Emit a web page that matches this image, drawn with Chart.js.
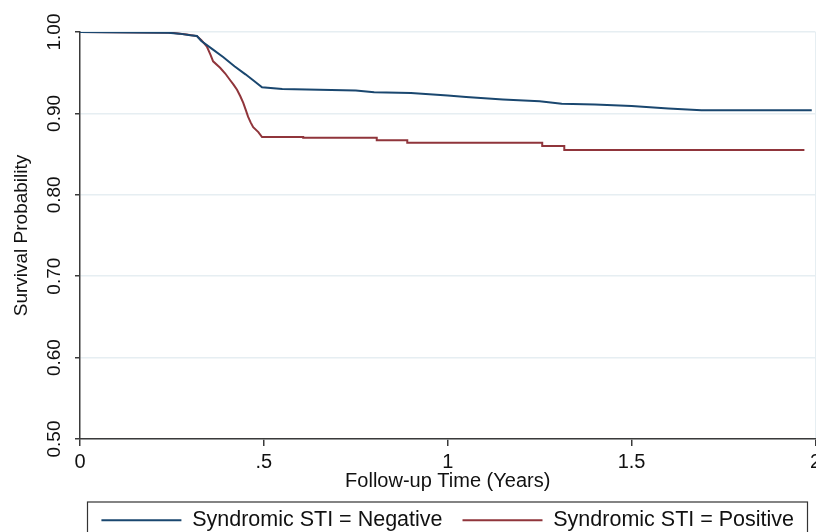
<!DOCTYPE html>
<html>
<head>
<meta charset="utf-8">
<script src="https://cdn.jsdelivr.net/npm/chart.js@4.4.1/dist/chart.umd.min.js"></script>
<style>
  html, body { margin: 0; padding: 0; background: #fff; overflow: hidden; }
  #wrap { position: relative; width: 825px; height: 541px; }
</style>
</head>
<body>
<div id="wrap"><canvas id="chart"></canvas></div>
<script>
// Kaplan-Meier estimates
const negTime = [0, 0.24, 0.27, 0.30, 0.318, 0.33, 0.36, 0.39, 0.42, 0.45, 0.47, 0.495, 0.55, 0.65, 0.75, 0.80, 0.90, 1.00, 1.05, 1.15, 1.25, 1.31, 1.40, 1.50, 1.60, 1.69, 1.99]
const negSurv = [1, 0.999, 0.998, 0.996, 0.995, 0.989, 0.979, 0.969, 0.958, 0.948, 0.941, 0.932, 0.930, 0.929, 0.928, 0.926, 0.925, 0.922, 0.920, 0.917, 0.915, 0.912, 0.911, 0.909, 0.906, 0.904, 0.904]

const posTime = [0, 0.25, 0.29, 0.318, 0.33, 0.345, 0.355, 0.362, 0.381, 0.395, 0.408, 0.418, 0.427, 0.436, 0.444, 0.451, 0.457, 0.464, 0.471, 0.485, 0.495, 0.607, 0.607, 0.807, 0.807, 0.89, 0.89, 1.257, 1.257, 1.317, 1.317, 1.97]
const posSurv = [1, 0.999, 0.997, 0.995, 0.990, 0.982, 0.972, 0.964, 0.956, 0.949, 0.941, 0.935, 0.929, 0.921, 0.913, 0.904, 0.896, 0.889, 0.883, 0.877, 0.871, 0.871, 0.870, 0.870, 0.867, 0.867, 0.864, 0.864, 0.860, 0.860, 0.855, 0.855]

const seriesNames = ['Syndromic STI = Negative', 'Syndromic STI = Positive']
const xTickValues = [0, 0.5, 1, 1.5, 2]
const xTickLabels = ['0', '.5', '1', '1.5', '2']
const yTickValues = [0.5, 0.6, 0.7, 0.8, 0.9, 1.0]
const yTickLabels = ['0.50', '0.60', '0.70', '0.80', '0.90', '1.00']

const blue = '#1a476f'
const red = '#90353b'
const gridCol = '#e6eef2'
const axisCol = '#3a3a3a'
const fontFam = 'Liberation Sans, Arial, sans-serif'

const toPoints = (xs, ys) => xs.map((x, i) => ({ x, y: ys[i] }))

// box round the legend, as in the Stata output
const legendBox = {
  id: 'legendBox',
  afterDraw(chart) {
    const lg = chart.legend
    const ctx = chart.ctx
    ctx.save()
    ctx.strokeStyle = '#333'
    ctx.lineWidth = 1.2
    ctx.strokeRect(87.5, lg.top + 12.5, 720, 60)
    ctx.restore()
  }
}

new Chart(document.getElementById('chart'), {
  type: 'line',
  data: {
    datasets: [
      { label: seriesNames[0], data: toPoints(negTime, negSurv), borderColor: blue, backgroundColor: blue, borderWidth: 2, pointRadius: 0, tension: 0 },
      { label: seriesNames[1], data: toPoints(posTime, posSurv), borderColor: red, backgroundColor: red, borderWidth: 2, pointRadius: 0, tension: 0 }
    ]
  },
  options: {
    responsive: true,
    maintainAspectRatio: false,
    animation: false,
    layout: { padding: { top: 32, left: 0, right: 0, bottom: 0 } },
    plugins: {
      tooltip: { enabled: false },
      legend: {
        position: 'bottom',
        fullSize: false,
        labels: {
          boxWidth: 80,
          boxHeight: 0,
          padding: 20,
          color: '#111',
          font: { family: fontFam, size: 21.5 }
        }
      }
    },
    scales: {
      x: {
        type: 'linear',
        min: 0,
        max: 2,
        afterBuildTicks: axis => { axis.ticks = xTickValues.map(v => ({ value: v })) },
        afterFit: axis => { axis.height = 50.5 },
        ticks: {
          callback: v => xTickLabels[xTickValues.indexOf(v)],
          color: '#111',
          padding: 4,
          maxRotation: 0,
          font: { family: fontFam, size: 20 }
        },
        grid: {
          color: c => (c.tick && c.tick.value === 2 ? gridCol : 'rgba(0,0,0,0)'),
          tickColor: axisCol,
          tickLength: 7,
          lineWidth: 1.5
        },
        border: { color: axisCol, width: 1.5 },
        title: {
          display: true,
          text: 'Follow-up Time (Years)',
          color: '#111',
          padding: { top: 0, bottom: 0 },
          font: { family: fontFam, size: 20, lineHeight: 0.85 }
        }
      },
      y: {
        type: 'linear',
        min: 0.5,
        max: 1.0,
        afterBuildTicks: axis => { axis.ticks = yTickValues.map(v => ({ value: v })) },
        afterFit: axis => { axis.width = 80 },
        ticks: {
          callback: v => yTickLabels[yTickValues.findIndex(t => Math.abs(t - v) < 1e-9)],
          color: '#111',
          minRotation: 90,
          maxRotation: 90,
          crossAlign: 'center',
          padding: 2,
          font: { family: fontFam, size: 19 }
        },
        grid: {
          color: gridCol,
          tickColor: axisCol,
          tickLength: 5,
          lineWidth: 1.5
        },
        border: { color: axisCol, width: 1.5 },
        title: {
          display: true,
          text: 'Survival Probability',
          color: '#111',
          padding: { top: 10, bottom: 0 },
          font: { family: fontFam, size: 19 }
        }
      }
    }
  },
  plugins: [legendBox]
})
</script>
</body>
</html>
